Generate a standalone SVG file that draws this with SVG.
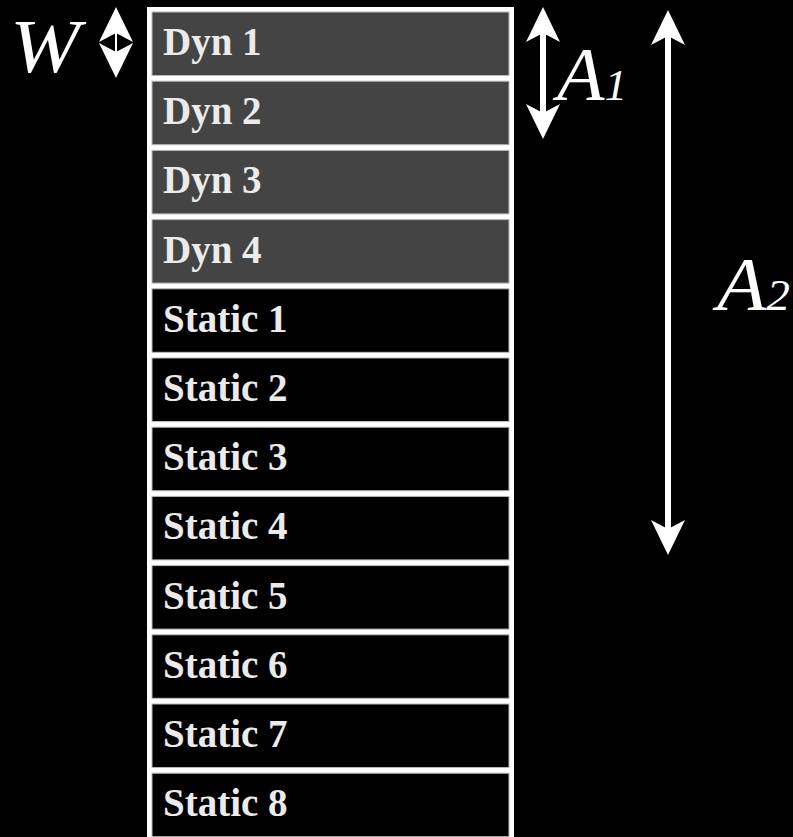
<svg xmlns="http://www.w3.org/2000/svg" width="793" height="837" viewBox="0 0 793 837">
<style>
.cell{stroke:#b8b8b8;stroke-width:1}
.dyn{fill:#444444}
.st{fill:#000000}
.lbl{font-family:"Liberation Serif","Times New Roman",serif;font-weight:bold;font-size:39px;fill:#ebebeb}
.math{font-family:"Liberation Serif","Times New Roman",serif;font-style:italic;fill:#ffffff}
.arr{stroke:#ffffff;fill:none}
</style>
<defs>
<marker id="ah" viewBox="0 0 35 34" refX="9" refY="17" markerWidth="35" markerHeight="34" markerUnits="userSpaceOnUse" orient="auto-start-reverse">
<path d="M0,0 L35,17 L0,34 L9,17 Z" fill="#ffffff"/>
</marker>
</defs>
<rect width="793" height="837" fill="#000000"/>
<rect id="frame" x="147" y="7" width="367" height="832" fill="#ffffff"/>
<g id="dyn1"><rect class="cell dyn" x="152" y="12" width="357" height="63.5"/><text class="lbl" x="163" y="55">Dyn 1</text></g>
<g id="dyn2"><rect class="cell dyn" x="152" y="81.2" width="357" height="63.5"/><text class="lbl" x="163" y="124.2">Dyn 2</text></g>
<g id="dyn3"><rect class="cell dyn" x="152" y="150.4" width="357" height="63.5"/><text class="lbl" x="163" y="193.4">Dyn 3</text></g>
<g id="dyn4"><rect class="cell dyn" x="152" y="219.6" width="357" height="63.5"/><text class="lbl" x="163" y="262.6">Dyn 4</text></g>
<g id="static1"><rect class="cell st" x="152" y="288.8" width="357" height="63.5"/><text class="lbl" x="163" y="331.8">Static 1</text></g>
<g id="static2"><rect class="cell st" x="152" y="358" width="357" height="63.5"/><text class="lbl" x="163" y="401">Static 2</text></g>
<g id="static3"><rect class="cell st" x="152" y="427.2" width="357" height="63.5"/><text class="lbl" x="163" y="470.2">Static 3</text></g>
<g id="static4"><rect class="cell st" x="152" y="496.4" width="357" height="63.5"/><text class="lbl" x="163" y="539.4">Static 4</text></g>
<g id="static5"><rect class="cell st" x="152" y="565.6" width="357" height="63.5"/><text class="lbl" x="163" y="608.6">Static 5</text></g>
<g id="static6"><rect class="cell st" x="152" y="634.8" width="357" height="63.5"/><text class="lbl" x="163" y="677.8">Static 6</text></g>
<g id="static7"><rect class="cell st" x="152" y="704" width="357" height="63.5"/><text class="lbl" x="163" y="747">Static 7</text></g>
<g id="static8"><rect class="cell st" x="152" y="773.2" width="357" height="63.5"/><text class="lbl" x="163" y="816.2">Static 8</text></g>
<g id="connectors">
<line class="arr" x1="116" y1="33" x2="116" y2="52" stroke-width="2" marker-start="url(#ah)" marker-end="url(#ah)"/>
<line class="arr" x1="543" y1="33" x2="543" y2="113" stroke-width="6" marker-start="url(#ah)" marker-end="url(#ah)"/>
<line class="arr" x1="668" y1="36" x2="668" y2="529" stroke-width="6" marker-start="url(#ah)" marker-end="url(#ah)"/>
</g>
<g id="labels">
<text class="math" x="10" y="72" font-size="76" textLength="70" lengthAdjust="spacingAndGlyphs">W</text>
<text class="math" x="557" y="100" font-size="76" textLength="70" lengthAdjust="spacingAndGlyphs">A<tspan font-size="44">1</tspan></text>
<text class="math" x="717" y="310" font-size="76" textLength="73" lengthAdjust="spacingAndGlyphs">A<tspan font-size="44">2</tspan></text>
</g>
</svg>
